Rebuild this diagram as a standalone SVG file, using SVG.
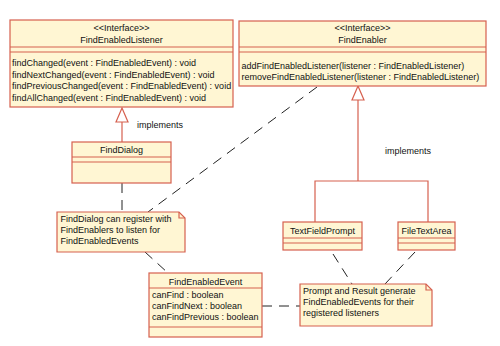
<svg xmlns="http://www.w3.org/2000/svg" width="500" height="346" viewBox="0 0 500 346">
<style>
.box{fill:#fff6d3;stroke:#d6604f;stroke-width:1.2}
.ln{stroke:#d6604f;stroke-width:1.2;fill:none}
.t{font-family:"Liberation Sans",Arial,sans-serif;font-size:9px;fill:#111}
.c{text-anchor:middle}
.dash{stroke:#222;stroke-width:1;stroke-dasharray:10 7;fill:none}
.gen{stroke:#d6604f;stroke-width:1.2;fill:none}
.tri{fill:#fff;stroke:#d6604f;stroke-width:1.2}
</style>
<rect width="500" height="346" fill="#fff"/>
<g id="connectors">
<line class="gen" x1="122" y1="122" x2="122" y2="142"/>
<polygon class="tri" points="122,108 116,122 128,122"/>
<text class="t" x="137" y="128">implements</text>
<polyline class="gen" points="358,100 358,181"/>
<polyline class="gen" points="315,222 315,181 428,181 428,222"/>
<polygon class="tri" points="358,86 352,100 364,100"/>
<text class="t" x="385" y="154">implements</text>
<line class="dash" x1="122" y1="183" x2="122" y2="212"/>
<line class="dash" x1="317" y1="87" x2="148" y2="212"/>
<line class="dash" x1="145" y1="252" x2="168" y2="273"/>
<line class="dash" x1="262" y1="306" x2="300" y2="306"/>
<line class="dash" x1="333" y1="254" x2="352" y2="284"/>
<line class="dash" x1="415" y1="252" x2="385" y2="284"/>
</g>
<g id="FindEnabledListener">
<rect class="box" x="10" y="20" width="223" height="87"/>
<line class="ln" x1="10" y1="47" x2="233" y2="47"/>
<line class="ln" x1="10" y1="52" x2="233" y2="52"/>
<text class="t c" x="121.5" y="31">&lt;&lt;Interface&gt;&gt;</text>
<text class="t c" x="121.5" y="43">FindEnabledListener</text>
<text class="t" x="12" y="66">findChanged(event : FindEnabledEvent) : void</text>
<text class="t" x="12" y="77.5">findNextChanged(event : FindEnabledEvent) : void</text>
<text class="t" x="12" y="89">findPreviousChanged(event : FindEnabledEvent) : void</text>
<text class="t" x="12" y="100.5">findAllChanged(event : FindEnabledEvent) : void</text>
</g>
<g id="FindEnabler">
<rect class="box" x="239" y="21" width="247" height="65"/>
<line class="ln" x1="239" y1="47" x2="486" y2="47"/>
<line class="ln" x1="239" y1="52" x2="486" y2="52"/>
<text class="t c" x="362.5" y="31">&lt;&lt;Interface&gt;&gt;</text>
<text class="t c" x="362.5" y="43">FindEnabler</text>
<text class="t" x="241.5" y="69">addFindEnabledListener(listener : FindEnabledListener)</text>
<text class="t" x="241.5" y="79.5">removeFindEnabledListener(listener : FindEnabledListener)</text>
</g>
<g id="FindDialog">
<rect class="box" x="72" y="142" width="99" height="41"/>
<line class="ln" x1="72" y1="157" x2="171" y2="157"/>
<line class="ln" x1="72" y1="162" x2="171" y2="162"/>
<text class="t c" x="121.5" y="153">FindDialog</text>
</g>
<g id="TextFieldPrompt">
<rect class="box" x="283" y="222" width="79" height="28"/>
<line class="ln" x1="283" y1="238" x2="362" y2="238"/>
<line class="ln" x1="283" y1="243" x2="362" y2="243"/>
<text class="t c" x="322.5" y="234">TextFieldPrompt</text>
</g>
<g id="FileTextArea">
<rect class="box" x="398" y="222" width="57" height="28"/>
<line class="ln" x1="398" y1="238" x2="455" y2="238"/>
<line class="ln" x1="398" y1="243" x2="455" y2="243"/>
<text class="t c" x="426.5" y="234">FileTextArea</text>
</g>
<g id="note1">
<path class="box" d="M57,212 H179 L185,218 V252 H57 Z"/>
<path class="ln" d="M179,212 V218 H185"/>
<text class="t" x="60.5" y="222">FindDialog can register with</text>
<text class="t" x="60.5" y="233">FindEnablers to listen for</text>
<text class="t" x="60.5" y="244">FindEnabledEvents</text>
</g>
<g id="FindEnabledEvent">
<rect class="box" x="149" y="273" width="113" height="64"/>
<line class="ln" x1="149" y1="288" x2="262" y2="288"/>
<line class="ln" x1="149" y1="327" x2="262" y2="327"/>
<text class="t c" x="205.5" y="285">FindEnabledEvent</text>
<text class="t" x="152" y="297.5">canFind : boolean</text>
<text class="t" x="152" y="308.5">canFindNext : boolean</text>
<text class="t" x="152" y="319.5">canFindPrevious : boolean</text>
</g>
<g id="note2">
<path class="box" d="M300,284 H426 L432,290 V326 H300 Z"/>
<path class="ln" d="M426,284 V290 H432"/>
<text class="t" x="303" y="294">Prompt and Result generate</text>
<text class="t" x="303" y="305">FindEnabledEvents for their</text>
<text class="t" x="303" y="316">registered listeners</text>
</g>
</svg>
